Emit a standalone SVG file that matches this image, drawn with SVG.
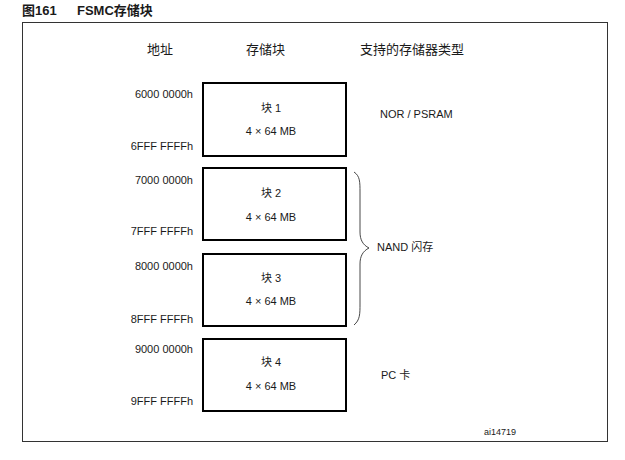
<svg xmlns="http://www.w3.org/2000/svg" width="625" height="460" viewBox="0 0 625 460">
<style>
text{font-family:"Liberation Sans","Noto Sans CJK SC",sans-serif;fill:#1a1a1a}
.t{font-size:13px;font-weight:bold}
.h{font-size:13px}
.a{font-size:11px;text-anchor:end}
.b{font-size:11px;text-anchor:middle}
.s{font-size:11px}
.box{fill:#fff;stroke:#000;stroke-width:2}
</style>
<rect x="0" y="0" width="625" height="460" fill="#fff"/>
<text class="t" x="22" y="15">图161</text>
<text class="t" x="77" y="15">FSMC存储块</text>
<rect x="22.5" y="22.5" width="585" height="419" fill="none" stroke="#333" stroke-width="1"/>
<text class="h" x="160" y="54" text-anchor="middle">地址</text>
<text class="h" x="265.5" y="54" text-anchor="middle">存储块</text>
<text class="h" x="360" y="54">支持的存储器类型</text>
<g id="block1">
<rect class="box" x="203" y="83" width="143" height="73"/>
<text class="b" x="271" y="112">块 1</text>
<text class="b" x="271" y="135">4 × 64 MB</text>
<text class="a" x="193" y="98">6000 0000h</text>
<text class="a" x="193" y="150">6FFF FFFFh</text>
</g>
<g id="block2">
<rect class="box" x="203" y="168" width="143" height="72"/>
<text class="b" x="271" y="197">块 2</text>
<text class="b" x="271" y="221">4 × 64 MB</text>
<text class="a" x="193" y="184">7000 0000h</text>
<text class="a" x="193" y="235">7FFF FFFFh</text>
</g>
<g id="block3">
<rect class="box" x="203" y="254" width="143" height="72"/>
<text class="b" x="271" y="282">块 3</text>
<text class="b" x="271" y="305">4 × 64 MB</text>
<text class="a" x="193" y="270">8000 0000h</text>
<text class="a" x="193" y="323">8FFF FFFFh</text>
</g>
<g id="block4">
<rect class="box" x="203" y="339" width="143" height="72"/>
<text class="b" x="271" y="366">块 4</text>
<text class="b" x="271" y="390">4 × 64 MB</text>
<text class="a" x="193" y="353">9000 0000h</text>
<text class="a" x="193" y="405">9FFF FFFFh</text>
</g>
<g id="types">
<text class="s" x="380" y="118">NOR /  PSRAM</text>
<text class="s" x="377" y="251">NAND 闪存</text>
<text class="s" x="381" y="379">PC 卡</text>
</g>
<g id="connectors">
<path d="M354,172 C360,176 360,182 360,192 L360,232 C360,240 363,245 369,248 C363,251 360,256 360,264 L360,304 C360,314 360,320 354,325" fill="none" stroke="#333" stroke-width="0.9"/>
</g>
<text x="484" y="435" style="font-size:9px">ai14719</text>
</svg>
